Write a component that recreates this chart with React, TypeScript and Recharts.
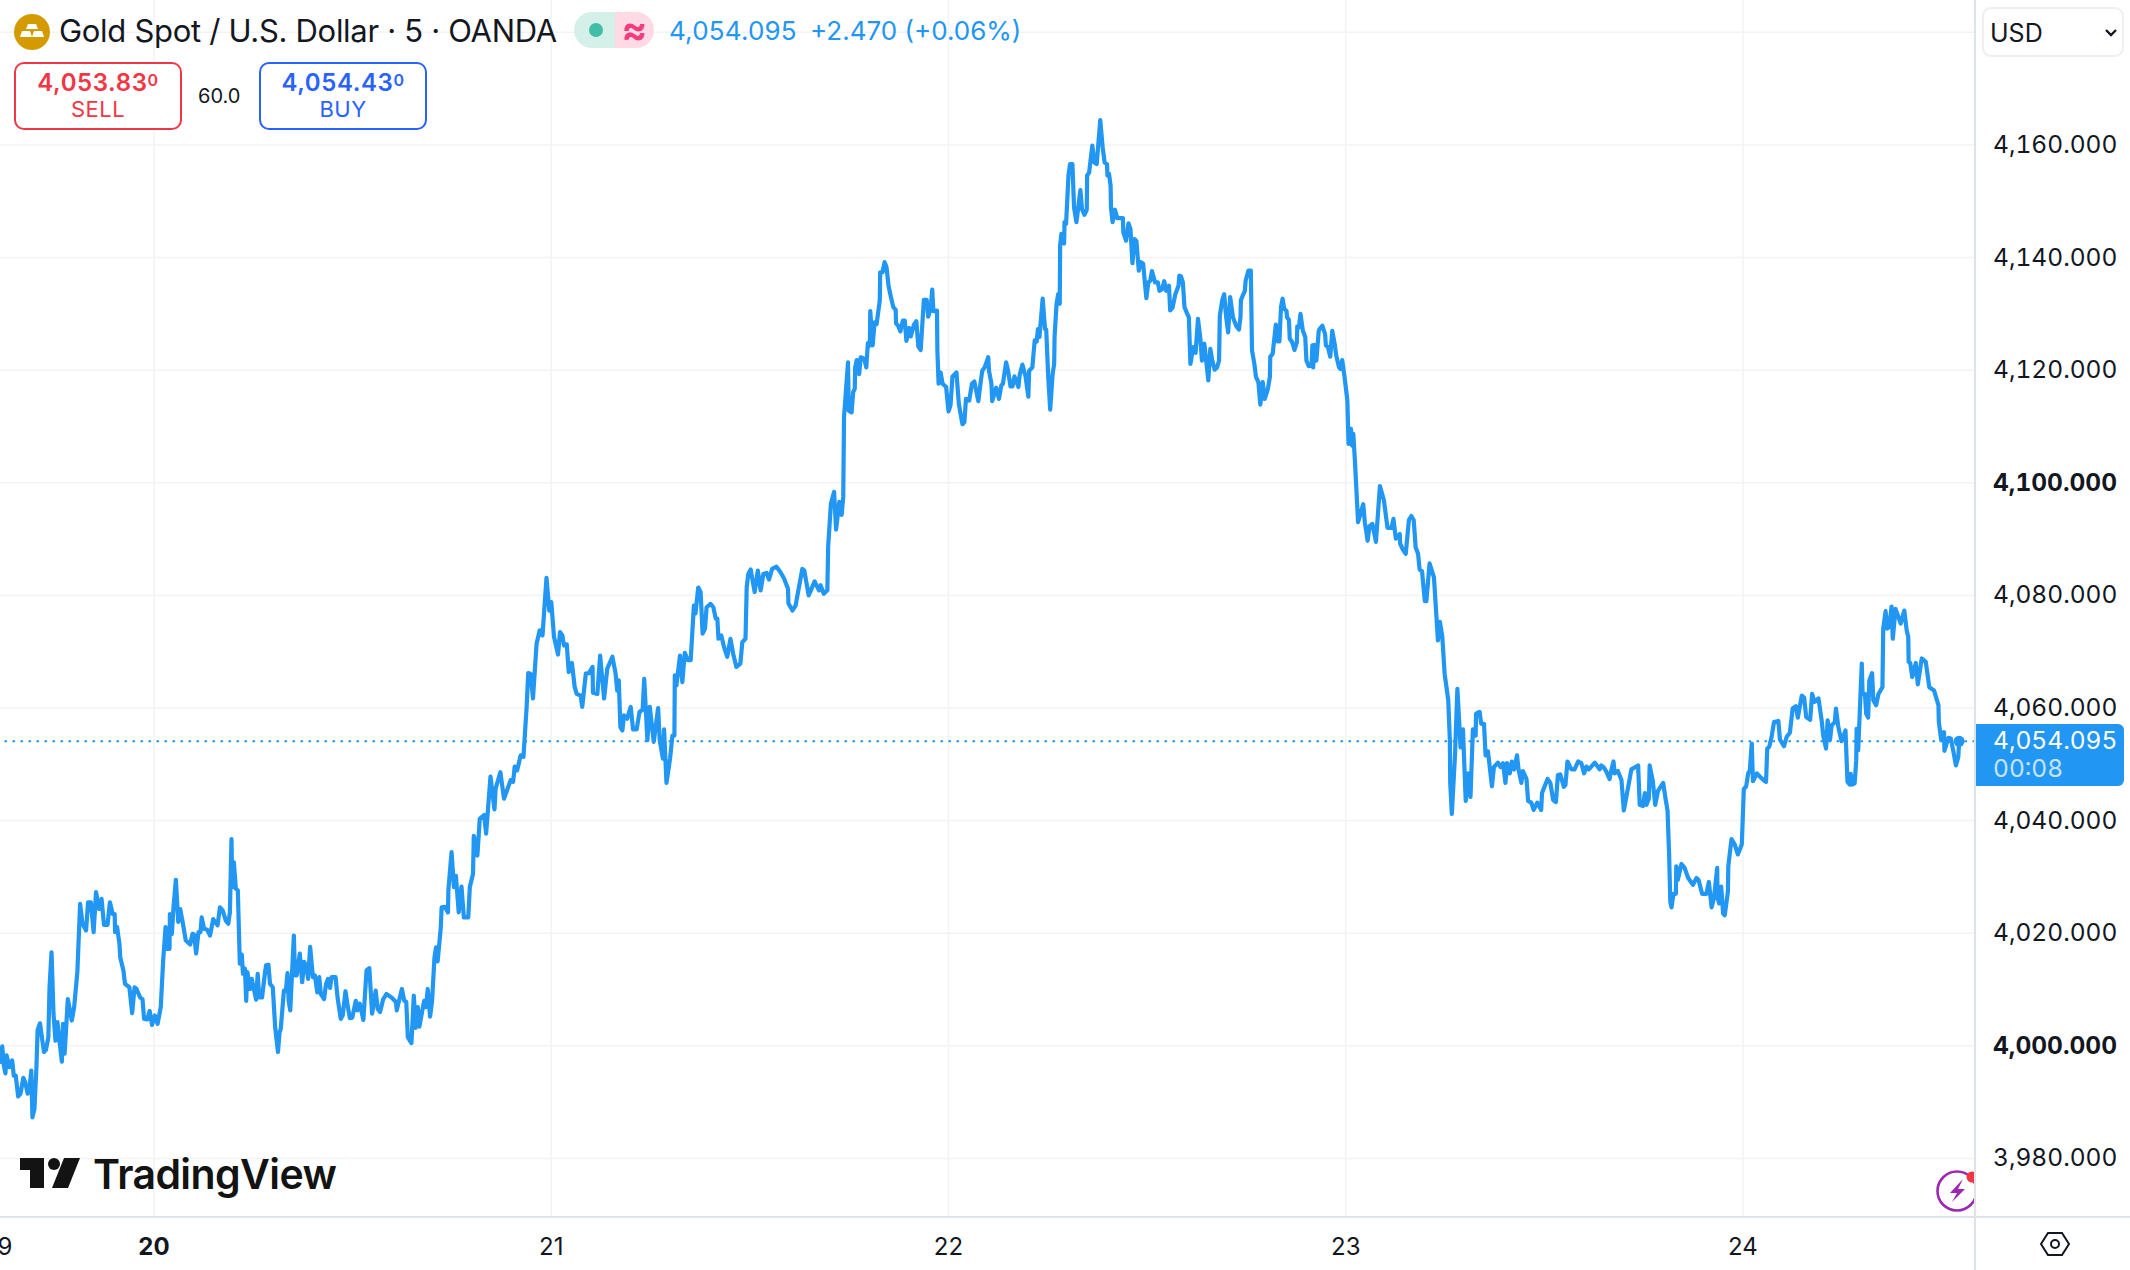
import React from 'react';
import { LineChart, Line, XAxis, YAxis, CartesianGrid, ReferenceLine, ReferenceDot } from 'recharts';

type Pt = [number, number];

// [day of month, price]
const day19: Pt[] = [
  [19.612, 3996.8], [19.618, 3999.9], [19.622, 3996.5], [19.626, 3995.1], [19.629, 3998.3], [19.636, 3996.2], [19.643, 3997.4], [19.647, 3994.7],
  [19.652, 3994.7], [19.658, 3991.0], [19.664, 3991.5], [19.671, 3994.3], [19.676, 3993.5], [19.682, 3991.5], [19.686, 3992.1], [19.691, 3995.6],
  [19.694, 3987.3], [19.699, 3988.8], [19.704, 3996.2], [19.707, 4002.8], [19.713, 4004.0], [19.719, 4000.9], [19.723, 3998.9], [19.728, 3999.3],
  [19.734, 4001.5], [19.737, 4010.4], [19.742, 4016.6], [19.747, 4005.7], [19.752, 4000.9], [19.757, 4004.2], [19.762, 4000.9], [19.768, 3997.2],
  [19.771, 4003.9], [19.775, 3998.6], [19.783, 4008.3], [19.793, 4004.5], [19.799, 4006.9], [19.807, 4013.1], [19.814, 4025.2], [19.820, 4021.7],
  [19.829, 4020.5], [19.834, 4025.5], [19.841, 4025.5], [19.848, 4020.2], [19.854, 4027.3], [19.862, 4024.3], [19.868, 4026.1], [19.874, 4021.5],
  [19.883, 4021.5], [19.889, 4025.5], [19.896, 4023.4], [19.901, 4023.4], [19.902, 4020.2], [19.907, 4021.1], [19.913, 4018.1], [19.915, 4015.7],
  [19.923, 4013.4], [19.927, 4011.0], [19.938, 4010.4], [19.945, 4005.8], [19.951, 4010.4], [19.956, 4010.1], [19.965, 4008.6], [19.971, 4008.3],
  [19.975, 4004.8], [19.983, 4004.7], [19.989, 4006.2], [19.995, 4003.7],
];

const day20: Pt[] = [
  [20.002, 4005.4], [20.009, 4003.9], [20.017, 4006.9], [20.023, 4015.1], [20.029, 4021.1], [20.032, 4017.2], [20.039, 4017.2], [20.040, 4023.4],
  [20.045, 4019.9], [20.049, 4024.6], [20.055, 4029.5], [20.061, 4022.0], [20.066, 4024.3], [20.072, 4022.0], [20.080, 4018.7], [20.091, 4018.0],
  [20.097, 4019.9], [20.101, 4019.8], [20.106, 4016.4], [20.112, 4020.2], [20.117, 4020.2], [20.120, 4022.8], [20.126, 4020.8], [20.134, 4020.6],
  [20.141, 4019.6], [20.149, 4022.5], [20.160, 4021.4], [20.166, 4024.6], [20.173, 4024.0], [20.181, 4022.2], [20.187, 4021.7], [20.191, 4023.7],
  [20.195, 4036.7], [20.197, 4028.2], [20.201, 4032.6], [20.206, 4027.9], [20.211, 4027.6], [20.216, 4014.6], [20.221, 4016.2], [20.224, 4012.8],
  [20.229, 4013.7], [20.232, 4008.0], [20.235, 4013.1], [20.242, 4010.1], [20.246, 4011.9], [20.257, 4008.2], [20.261, 4012.8], [20.265, 4008.6],
  [20.272, 4008.6], [20.278, 4012.2], [20.282, 4014.3], [20.288, 4014.4], [20.292, 4011.0], [20.299, 4010.4], [20.305, 4003.3], [20.312, 3998.9],
  [20.316, 4002.4], [20.319, 4003.0], [20.327, 4009.8], [20.332, 4009.8], [20.336, 4012.9], [20.339, 4008.0], [20.343, 4006.3], [20.352, 4019.6],
  [20.355, 4012.5], [20.359, 4012.5], [20.367, 4016.4], [20.373, 4011.3], [20.378, 4014.9], [20.383, 4014.3], [20.388, 4011.9], [20.393, 4017.6],
  [20.400, 4012.2], [20.405, 4012.5], [20.411, 4009.5], [20.416, 4012.2], [20.420, 4009.2], [20.428, 4008.3], [20.433, 4011.0], [20.438, 4011.9],
  [20.443, 4010.3], [20.447, 4012.2], [20.457, 4012.2], [20.462, 4008.6], [20.470, 4004.8], [20.475, 4005.4], [20.482, 4009.7], [20.488, 4006.9],
  [20.493, 4004.9], [20.499, 4005.0], [20.508, 4008.0], [20.512, 4006.3], [20.518, 4007.5], [20.527, 4004.6], [20.535, 4013.4], [20.542, 4013.8],
  [20.549, 4005.7], [20.558, 4009.8], [20.563, 4006.6], [20.569, 4006.0], [20.577, 4008.3], [20.585, 4009.2], [20.598, 4008.6], [20.609, 4007.8],
  [20.611, 4006.3], [20.624, 4010.1], [20.630, 4008.0], [20.635, 4007.8], [20.639, 4001.5], [20.648, 4000.5], [20.654, 4008.9], [20.659, 4003.2],
  [20.664, 4006.9], [20.668, 4003.4], [20.674, 4005.7], [20.680, 4008.0], [20.685, 4006.9], [20.689, 4010.1], [20.695, 4005.2], [20.700, 4008.0],
  [20.706, 4015.7], [20.710, 4017.5], [20.714, 4015.0], [20.722, 4021.1], [20.724, 4024.6], [20.732, 4024.7], [20.740, 4023.7], [20.741, 4027.6],
  [20.749, 4034.4], [20.755, 4028.2], [20.760, 4030.2], [20.767, 4023.7], [20.774, 4028.3], [20.780, 4022.8], [20.791, 4022.8], [20.795, 4028.2],
  [20.803, 4030.5], [20.805, 4037.3], [20.814, 4033.8], [20.820, 4040.3], [20.831, 4041.0], [20.836, 4037.7], [20.847, 4047.8], [20.857, 4042.0],
  [20.860, 4045.7], [20.872, 4048.6], [20.881, 4043.9], [20.898, 4047.2], [20.904, 4046.9], [20.908, 4049.6], [20.914, 4048.9], [20.923, 4051.6],
  [20.930, 4051.3], [20.938, 4060.2], [20.942, 4066.2], [20.948, 4066.1], [20.954, 4061.7], [20.963, 4071.4], [20.971, 4073.8], [20.978, 4072.9],
  [20.988, 4083.1], [20.995, 4077.3],
];

const day21: Pt[] = [
  [21.000, 4078.8], [21.007, 4072.6], [21.017, 4069.5], [21.022, 4073.5], [21.028, 4072.9], [21.032, 4071.1], [21.039, 4071.3], [21.044, 4066.4],
  [21.052, 4068.0], [21.059, 4063.7], [21.064, 4062.5], [21.074, 4062.2], [21.078, 4060.2], [21.087, 4066.1], [21.095, 4066.2], [21.104, 4067.3],
  [21.105, 4062.7], [21.116, 4062.5], [21.123, 4069.3], [21.133, 4061.7], [21.141, 4067.0], [21.154, 4069.1], [21.162, 4066.1], [21.166, 4063.1],
  [21.170, 4064.9], [21.174, 4056.6], [21.179, 4056.0], [21.183, 4058.7], [21.191, 4058.1], [21.200, 4060.2], [21.206, 4056.2], [21.215, 4056.2],
  [21.222, 4059.3], [21.230, 4059.7], [21.234, 4065.2], [21.242, 4054.3], [21.248, 4060.2], [21.258, 4054.0], [21.269, 4060.0], [21.273, 4054.3],
  [21.281, 4051.0], [21.284, 4056.2], [21.290, 4046.7], [21.299, 4051.0], [21.305, 4055.1], [21.310, 4055.1], [21.311, 4065.8], [21.315, 4064.0],
  [21.324, 4069.3], [21.330, 4064.6], [21.336, 4069.8], [21.344, 4068.5], [21.351, 4068.5], [21.359, 4078.2], [21.363, 4076.8], [21.370, 4081.4],
  [21.376, 4080.6], [21.381, 4073.2], [21.387, 4074.1], [21.391, 4077.9], [21.401, 4078.5], [21.408, 4077.9], [21.414, 4075.9], [21.418, 4075.9],
  [21.421, 4072.3], [21.428, 4072.9], [21.435, 4070.8], [21.443, 4069.1], [21.451, 4072.3], [21.458, 4069.6], [21.466, 4067.3], [21.476, 4067.9],
  [21.481, 4071.7], [21.489, 4072.3], [21.492, 4081.5], [21.496, 4083.8], [21.502, 4084.6], [21.512, 4080.6], [21.520, 4084.4], [21.527, 4080.9],
  [21.534, 4083.8], [21.542, 4084.0], [21.548, 4082.8], [21.556, 4084.7], [21.567, 4085.1], [21.577, 4084.1], [21.586, 4083.0], [21.596, 4081.2],
  [21.597, 4078.6], [21.607, 4077.3], [21.615, 4078.2], [21.632, 4084.7], [21.637, 4084.4], [21.648, 4080.0], [21.663, 4082.5], [21.674, 4080.9],
  [21.678, 4081.8], [21.686, 4080.3], [21.695, 4080.9], [21.697, 4088.6], [21.704, 4096.3], [21.712, 4098.4], [21.717, 4091.7], [21.725, 4096.6],
  [21.731, 4094.3], [21.735, 4097.5], [21.737, 4111.7], [21.740, 4114.6], [21.747, 4121.4], [21.749, 4112.8], [21.756, 4112.5], [21.760, 4116.1],
  [21.764, 4116.7], [21.765, 4120.5], [21.769, 4121.8], [21.775, 4119.3], [21.779, 4122.3], [21.788, 4122.0], [21.793, 4120.5], [21.797, 4124.8],
  [21.802, 4124.4], [21.803, 4130.5], [21.809, 4124.4], [21.814, 4128.5], [21.819, 4128.2], [21.827, 4132.4], [21.828, 4137.4], [21.834, 4137.4],
  [21.839, 4139.2], [21.844, 4138.3], [21.849, 4135.0], [21.855, 4133.0], [21.861, 4131.2], [21.867, 4130.7], [21.868, 4128.3], [21.873, 4127.9],
  [21.879, 4126.9], [21.885, 4128.8], [21.890, 4128.8], [21.894, 4125.2], [21.901, 4127.5], [21.905, 4126.0], [21.913, 4128.1], [21.919, 4128.7],
  [21.924, 4124.2], [21.930, 4123.6], [21.938, 4132.5], [21.945, 4132.5], [21.949, 4129.5], [21.955, 4130.9], [21.959, 4134.3], [21.962, 4130.5],
  [21.971, 4130.6], [21.972, 4123.5], [21.975, 4117.6], [21.980, 4119.6], [21.985, 4117.6], [21.994, 4117.0],
];

const day22: Pt[] = [
  [22.000, 4112.7], [22.005, 4113.7], [22.010, 4118.9], [22.020, 4119.6], [22.026, 4114.0], [22.035, 4110.4], [22.040, 4110.8], [22.044, 4114.9],
  [22.052, 4114.6], [22.059, 4117.6], [22.065, 4118.0], [22.075, 4114.5], [22.081, 4117.9], [22.085, 4119.9], [22.091, 4120.5], [22.100, 4122.3],
  [22.102, 4119.9], [22.108, 4117.6], [22.110, 4114.5], [22.120, 4116.9], [22.127, 4114.9], [22.133, 4117.3], [22.137, 4117.6], [22.145, 4121.4],
  [22.150, 4119.9], [22.156, 4117.1], [22.161, 4117.1], [22.166, 4118.9], [22.176, 4117.0], [22.179, 4119.1], [22.186, 4121.0], [22.194, 4118.9],
  [22.201, 4115.3], [22.203, 4119.9], [22.211, 4120.5], [22.217, 4125.3], [22.222, 4125.1], [22.225, 4127.3], [22.229, 4125.9], [22.237, 4132.7],
  [22.243, 4127.3], [22.246, 4127.2], [22.251, 4118.8], [22.256, 4113.0], [22.262, 4119.3], [22.266, 4121.1], [22.267, 4125.9], [22.272, 4131.8],
  [22.276, 4133.5], [22.280, 4131.8], [22.281, 4142.1], [22.284, 4144.2], [22.291, 4142.5], [22.292, 4146.3], [22.296, 4146.0], [22.302, 4154.6],
  [22.306, 4156.6], [22.312, 4156.6], [22.316, 4148.9], [22.322, 4146.3], [22.332, 4152.0], [22.336, 4148.6], [22.342, 4147.6], [22.348, 4148.5],
  [22.349, 4154.6], [22.354, 4155.1], [22.358, 4157.5], [22.362, 4159.9], [22.367, 4156.9], [22.373, 4156.6], [22.382, 4164.4], [22.388, 4159.6],
  [22.393, 4156.9], [22.399, 4156.6], [22.400, 4154.6], [22.404, 4154.9], [22.408, 4152.8], [22.409, 4148.9], [22.413, 4146.3], [22.419, 4148.5],
  [22.425, 4147.0], [22.439, 4147.0], [22.440, 4144.5], [22.447, 4143.0], [22.453, 4146.1], [22.458, 4145.1], [22.463, 4139.0], [22.468, 4143.3],
  [22.473, 4142.9], [22.479, 4137.7], [22.484, 4139.2], [22.490, 4138.9], [22.498, 4132.8], [22.503, 4135.6], [22.508, 4135.9], [22.512, 4137.6],
  [22.520, 4135.6], [22.527, 4135.6], [22.531, 4134.1], [22.538, 4134.4], [22.543, 4135.8], [22.548, 4134.1], [22.555, 4135.0], [22.558, 4130.6],
  [22.564, 4131.1], [22.571, 4133.5], [22.579, 4135.0], [22.581, 4136.8], [22.585, 4136.7], [22.590, 4135.6], [22.594, 4131.2], [22.601, 4130.0],
  [22.605, 4129.4], [22.609, 4121.1], [22.616, 4124.1], [22.622, 4123.1], [22.628, 4129.1], [22.634, 4125.6], [22.638, 4121.7], [22.644, 4124.7],
  [22.654, 4118.2], [22.659, 4123.8], [22.664, 4121.7], [22.670, 4120.1], [22.676, 4120.5], [22.681, 4121.7], [22.683, 4129.7], [22.689, 4132.4],
  [22.694, 4133.5], [22.699, 4129.4], [22.704, 4126.7], [22.709, 4133.0], [22.716, 4129.4], [22.724, 4127.9], [22.731, 4127.2], [22.735, 4129.4],
  [22.736, 4132.4], [22.741, 4133.3], [22.746, 4134.1], [22.748, 4135.9], [22.755, 4137.7], [22.761, 4137.7], [22.764, 4123.5], [22.770, 4121.1],
  [22.774, 4118.8], [22.780, 4117.9], [22.785, 4113.9], [22.791, 4117.9], [22.796, 4114.9], [22.804, 4116.7], [22.809, 4118.8], [22.810, 4122.4],
  [22.816, 4122.9], [22.824, 4128.1], [22.829, 4125.1], [22.833, 4125.1], [22.837, 4131.2], [22.841, 4132.7], [22.845, 4130.9], [22.851, 4130.5],
  [22.852, 4129.4], [22.857, 4128.9], [22.859, 4125.6], [22.865, 4125.0], [22.871, 4123.6], [22.877, 4125.0], [22.878, 4127.8], [22.882, 4127.6],
  [22.886, 4130.0], [22.892, 4127.0], [22.898, 4125.9], [22.901, 4121.7], [22.907, 4120.7], [22.914, 4120.8], [22.916, 4124.4], [22.918, 4120.5],
  [22.920, 4124.5], [22.926, 4121.7], [22.932, 4127.0], [22.934, 4127.3], [22.941, 4127.9], [22.948, 4126.4], [22.950, 4124.4], [22.955, 4124.1],
  [22.961, 4122.4], [22.966, 4127.0], [22.972, 4124.7], [22.976, 4122.6], [22.983, 4120.5], [22.987, 4120.2], [22.991, 4121.8], [22.997, 4118.8],
];

const day23: Pt[] = [
  [23.004, 4114.6], [23.007, 4106.9], [23.013, 4109.6], [23.016, 4106.6], [23.019, 4108.7], [23.023, 4104.0], [23.031, 4093.0], [23.044, 4096.2],
  [23.048, 4093.0], [23.055, 4089.7], [23.060, 4092.3], [23.067, 4092.7], [23.076, 4089.5], [23.086, 4099.4], [23.096, 4096.9], [23.105, 4092.0],
  [23.115, 4092.0], [23.120, 4093.6], [23.126, 4090.1], [23.136, 4090.9], [23.137, 4089.2], [23.144, 4088.1], [23.151, 4087.4], [23.159, 4093.4],
  [23.165, 4094.1], [23.171, 4093.4], [23.176, 4088.5], [23.182, 4087.4], [23.186, 4084.6], [23.192, 4084.3], [23.199, 4079.0], [23.203, 4079.0],
  [23.211, 4085.7], [23.222, 4083.2], [23.232, 4072.0], [23.237, 4075.3], [23.243, 4072.7], [23.249, 4066.0], [23.258, 4061.4], [23.262, 4054.4],
  [23.263, 4046.7], [23.267, 4041.2], [23.275, 4051.6], [23.281, 4063.4], [23.289, 4053.0], [23.295, 4056.2], [23.302, 4043.5], [23.308, 4048.4],
  [23.314, 4044.2], [23.320, 4056.2], [23.327, 4055.1], [23.328, 4059.0], [23.337, 4059.3], [23.341, 4057.2], [23.348, 4057.2], [23.352, 4051.6],
  [23.358, 4052.3], [23.368, 4046.1], [23.373, 4049.5], [23.383, 4050.3], [23.390, 4049.5], [23.396, 4050.2], [23.402, 4046.7], [23.406, 4050.2],
  [23.413, 4048.4], [23.418, 4050.5], [23.424, 4049.1], [23.431, 4051.6], [23.435, 4049.1], [23.442, 4046.7], [23.446, 4048.8], [23.455, 4047.4],
  [23.459, 4043.5], [23.467, 4043.2], [23.473, 4041.9], [23.482, 4043.2], [23.492, 4041.9], [23.494, 4044.9], [23.508, 4047.4], [23.515, 4046.7],
  [23.522, 4043.7], [23.529, 4043.3], [23.534, 4048.1], [23.540, 4048.2], [23.549, 4046.0], [23.553, 4046.3], [23.558, 4050.5], [23.568, 4049.1],
  [23.576, 4049.1], [23.585, 4050.5], [23.593, 4050.2], [23.600, 4048.4], [23.606, 4049.6], [23.612, 4049.1], [23.627, 4050.3], [23.639, 4049.1],
  [23.643, 4049.8], [23.649, 4049.5], [23.656, 4048.7], [23.664, 4047.4], [23.669, 4049.1], [23.674, 4050.5], [23.677, 4048.4], [23.685, 4048.8],
  [23.694, 4047.2], [23.700, 4041.8], [23.711, 4046.0], [23.719, 4049.1], [23.736, 4049.8], [23.740, 4042.8], [23.748, 4042.6], [23.753, 4044.9],
  [23.757, 4042.8], [23.763, 4043.9], [23.765, 4049.8], [23.773, 4047.0], [23.779, 4042.8], [23.786, 4045.3], [23.799, 4046.7], [23.805, 4043.9],
  [23.810, 4041.8], [23.814, 4034.0], [23.817, 4025.6], [23.820, 4024.6], [23.825, 4027.0], [23.831, 4027.0], [23.832, 4031.9], [23.836, 4029.5],
  [23.845, 4032.3], [23.853, 4031.6], [23.862, 4029.8], [23.874, 4028.6], [23.883, 4029.8], [23.888, 4029.5], [23.897, 4027.0], [23.908, 4027.0],
  [23.914, 4029.1], [23.921, 4024.6], [23.927, 4026.3], [23.935, 4031.6], [23.936, 4026.3], [23.940, 4025.3], [23.945, 4028.3], [23.950, 4023.5],
  [23.954, 4023.2], [23.962, 4027.4], [23.963, 4031.9], [23.971, 4036.7], [23.979, 4035.8], [23.987, 4034.0], [23.997, 4035.8],
];

const day24: Pt[] = [
  [24.002, 4045.6], [24.008, 4046.1], [24.013, 4048.4], [24.017, 4048.8], [24.022, 4053.7], [24.025, 4047.0], [24.035, 4048.4], [24.044, 4047.7],
  [24.055, 4047.0], [24.058, 4046.9], [24.061, 4052.8], [24.066, 4053.1], [24.072, 4054.9], [24.078, 4057.5], [24.089, 4057.7], [24.093, 4054.4],
  [24.103, 4053.2], [24.110, 4054.9], [24.118, 4055.6], [24.125, 4059.9], [24.133, 4060.3], [24.138, 4058.3], [24.148, 4062.2], [24.154, 4061.8],
  [24.159, 4058.4], [24.169, 4057.9], [24.174, 4062.5], [24.180, 4061.1], [24.190, 4061.7], [24.198, 4057.8], [24.202, 4055.1], [24.209, 4052.8],
  [24.213, 4057.8], [24.219, 4054.3], [24.223, 4056.9], [24.231, 4057.5], [24.234, 4059.9], [24.240, 4056.6], [24.248, 4054.1], [24.258, 4056.0],
  [24.263, 4046.9], [24.269, 4046.4], [24.271, 4048.3], [24.275, 4046.4], [24.281, 4046.6], [24.285, 4050.7], [24.286, 4056.3], [24.290, 4052.5],
  [24.299, 4067.9], [24.301, 4062.5], [24.307, 4062.5], [24.310, 4059.0], [24.315, 4058.3], [24.318, 4064.9], [24.325, 4066.2], [24.328, 4061.4],
  [24.335, 4060.5], [24.341, 4062.5], [24.351, 4063.7], [24.353, 4074.1], [24.359, 4077.2], [24.363, 4074.1], [24.368, 4074.4], [24.374, 4078.0],
  [24.377, 4072.3], [24.384, 4077.6], [24.397, 4075.0], [24.406, 4077.3], [24.412, 4073.8], [24.416, 4072.6], [24.417, 4068.2], [24.421, 4068.0],
  [24.426, 4065.5], [24.435, 4068.0], [24.440, 4064.2], [24.450, 4068.8], [24.460, 4068.2], [24.469, 4063.7], [24.481, 4063.1], [24.492, 4060.5],
  [24.493, 4057.5], [24.499, 4054.3], [24.506, 4055.7], [24.507, 4052.4], [24.517, 4054.7], [24.523, 4054.6], [24.529, 4052.5], [24.536, 4049.8],
  [24.542, 4051.3], [24.544, 4054.095],
];

const LAST_PRICE = 4054.095;
const xDomain = [19.6123, 24.584];
const yDomain = [3969.6, 4185.75];
const xTicks = [19.6123, 20, 21, 22, 23, 24];
const dayGrid = [20, 21, 22, 23, 24];
const yTicks = [3980, 4000, 4020, 4040, 4060, 4080, 4100, 4120, 4140, 4160];
const priceGrid = [...yTicks, 4180];
const boldPrices = [4000, 4100];

const data = [...day19, ...day20, ...day21, ...day22, ...day23, ...day24].map(([t, price]) => ({ t, price }));

const BLUE = '#2196f3';
const INK = '#131722';
const FONT = 'Inter, "Liberation Sans", sans-serif';

const PriceTick = ({ x, y, payload }: any) => (
  <text x={x} y={y} dy={8} textAnchor="start" fontSize={24.5} fontFamily={FONT} style={{ fontVariantNumeric: 'tabular-nums' }}
    fontWeight={boldPrices.includes(payload.value) ? 700 : 400} fill={INK}>
    {payload.value.toLocaleString('en-US', { minimumFractionDigits: 3 })}
  </text>
);

const DayTick = ({ x, y, payload }: any) => {
  const day = Math.floor(payload.value);
  return (
    <text x={x} y={y} dy={30} textAnchor="middle" fontSize={24} fontFamily={FONT}
      fontWeight={day === 20 ? 700 : 400} fill={INK}>
      {day}
    </text>
  );
};

const abs = (left: number, top: number, extra: React.CSSProperties = {}): React.CSSProperties => ({
  position: 'absolute', left, top, fontFamily: FONT, whiteSpace: 'nowrap', ...extra,
});

const TradeBox = ({ left, color, main, sup, label }: any) => (
  <div style={abs(left, 62, { width: 168, height: 68, boxSizing: 'border-box', border: `2px solid ${color}`, borderRadius: 10, textAlign: 'center', color, background: '#fff' })}>
    <div style={{ fontSize: 24, fontWeight: 600, lineHeight: '28px', marginTop: 2, letterSpacing: 0.6 }}>
      {main}<span style={{ fontSize: 16, verticalAlign: 5 }}>{sup}</span>
    </div>
    <div style={{ fontSize: 22, lineHeight: '24px', letterSpacing: 0.5 }}>{label}</div>
  </div>
);

export default function App() {
  return (
    <div style={{ position: 'absolute', left: 0, top: 0, width: 2130, height: 1270, overflow: 'hidden', background: '#fff' }}>
      <LineChart width={2130} height={1270} data={data} margin={{ top: 0, right: 0, bottom: 0, left: 0 }}>
        <CartesianGrid stroke="#f2f3f4" strokeWidth={1.5} verticalValues={dayGrid} horizontalValues={priceGrid} />
        <XAxis dataKey="t" type="number" domain={xDomain} ticks={xTicks} interval={0} height={53} allowDataOverflow
          tick={<DayTick />} tickLine={false} axisLine={{ stroke: '#e0e3e6', strokeWidth: 2 }} />
        <YAxis orientation="right" type="number" domain={yDomain} ticks={yTicks} interval={0} width={155} allowDataOverflow
          tick={<PriceTick />} tickLine={false} tickMargin={12} axisLine={{ stroke: '#e0e3e6', strokeWidth: 2 }} />
        <ReferenceLine y={LAST_PRICE} stroke={BLUE} strokeWidth={2} strokeDasharray="2.5 5.5" />
        <Line dataKey="price" type="linear" stroke={BLUE} strokeWidth={4.2} strokeLinejoin="round" dot={false} isAnimationActive={false} />
        <ReferenceDot x={24.544} y={LAST_PRICE} r={5.5} fill={BLUE} stroke="none" />
      </LineChart>

      {/* axis lines carry on past the plot */}
      <div style={abs(1974, 1217, { width: 2, height: 53, background: '#e0e3e6' })} />
      <div style={abs(1975, 1216, { width: 155, height: 2, background: '#e0e3e6' })} />

      {/* header */}
      <svg style={abs(14, 14)} width={36} height={36} viewBox="0 0 36 36">
        <circle cx={18} cy={18} r={18} fill="#d49b00" />
        <path d="M14 10h8l2 5H12zM8 17h8l2 6H6zM20 17h8l2 6H18z" fill="#fff" />
      </svg>
      <div style={abs(59, 12, { fontSize: 31, lineHeight: '38px', color: INK, letterSpacing: -0.3 })}>Gold Spot / U.S. Dollar · 5 · OANDA</div>
      <div style={abs(574, 12, { width: 80, height: 36, borderRadius: 18, overflow: 'hidden', display: 'flex' })}>
        <div style={{ width: 41, background: '#d5f0e8', position: 'relative' }}>
          <div style={{ position: 'absolute', left: 15, top: 11, width: 14, height: 14, borderRadius: 7, background: '#42bda8' }} />
        </div>
        <div style={{ width: 39, background: '#ffd9e4', color: '#f23c7e', textAlign: 'center', fontSize: 38, lineHeight: '34px', fontWeight: 700 }}>≈</div>
      </div>
      <div style={abs(669, 14, { fontSize: 26, lineHeight: '34px', color: BLUE, letterSpacing: 0.2 })}>4,054.095</div>
      <div style={abs(810, 14, { fontSize: 26, lineHeight: '34px', color: BLUE })}>+2.470 (+0.06%)</div>

      <TradeBox left={14} color="#f23645" main="4,053.83" sup="0" label="SELL" />
      <div style={abs(198, 84, { fontSize: 20, lineHeight: '24px', color: INK })}>60.0</div>
      <TradeBox left={259} color="#2962ff" main="4,054.43" sup="0" label="BUY" />

      {/* currency selector */}
      <div style={abs(1982, 7, { width: 142, height: 50, boxSizing: 'border-box', border: '2px solid #eeeff1', borderRadius: 9, background: '#fff' })} />
      <div style={abs(1990, 17, { fontSize: 25, lineHeight: '32px', color: INK })}>USD</div>
      <svg style={abs(2104, 28)} width={14} height={9} viewBox="0 0 14 9">
        <path d="M2 2l5 5 5-5" fill="none" stroke={INK} strokeWidth={2.4} />
      </svg>

      {/* last price tag */}
      <div style={abs(1976, 724, { width: 148, height: 62, background: BLUE, borderRadius: '0 6px 6px 0' })} />
      <div style={abs(1993, 726, { fontSize: 24.5, lineHeight: '28px', fontVariantNumeric: 'tabular-nums', color: '#fff' })}>4,054.095</div>
      <div style={abs(1993, 754, { fontSize: 24.5, lineHeight: '28px', fontVariantNumeric: 'tabular-nums', color: '#c6e3fb' })}>00:08</div>

      {/* watermark */}
      <svg style={abs(20, 1158)} width={60} height={30} viewBox="0 0 60 30">
        <path d="M0 0h24v30H10V12H0z" fill="#131313" />
        <circle cx={34} cy={6} r={6} fill="#131313" />
        <path d="M44 0h16L48 30H32z" fill="#131313" />
      </svg>
      <div style={abs(93, 1149, { fontSize: 41, lineHeight: '50px', fontWeight: 600, letterSpacing: -0.6, color: '#131313' })}>TradingView</div>

      {/* bolt badge and settings */}
      <svg style={abs(1932, 1165)} width={42} height={52} viewBox="0 0 42 52">
        <circle cx={25} cy={26} r={19.5} fill="#fff" stroke="#9c27b0" strokeWidth={2.6} />
        <path d="M31 14L18 28h7l-5 9 13-13h-7z" fill="#9c27b0" />
        <circle cx={40} cy={12} r={5.5} fill="#f23645" />
      </svg>
      <svg style={abs(2039, 1231)} width={32} height={26} viewBox="0 0 32 26">
        <path d="M9 2h14l7 11-7 11H9L2 13z" fill="none" stroke={INK} strokeWidth={2} />
        <circle cx={16} cy={13} r={4} fill="none" stroke={INK} strokeWidth={2} />
      </svg>
    </div>
  );
}
